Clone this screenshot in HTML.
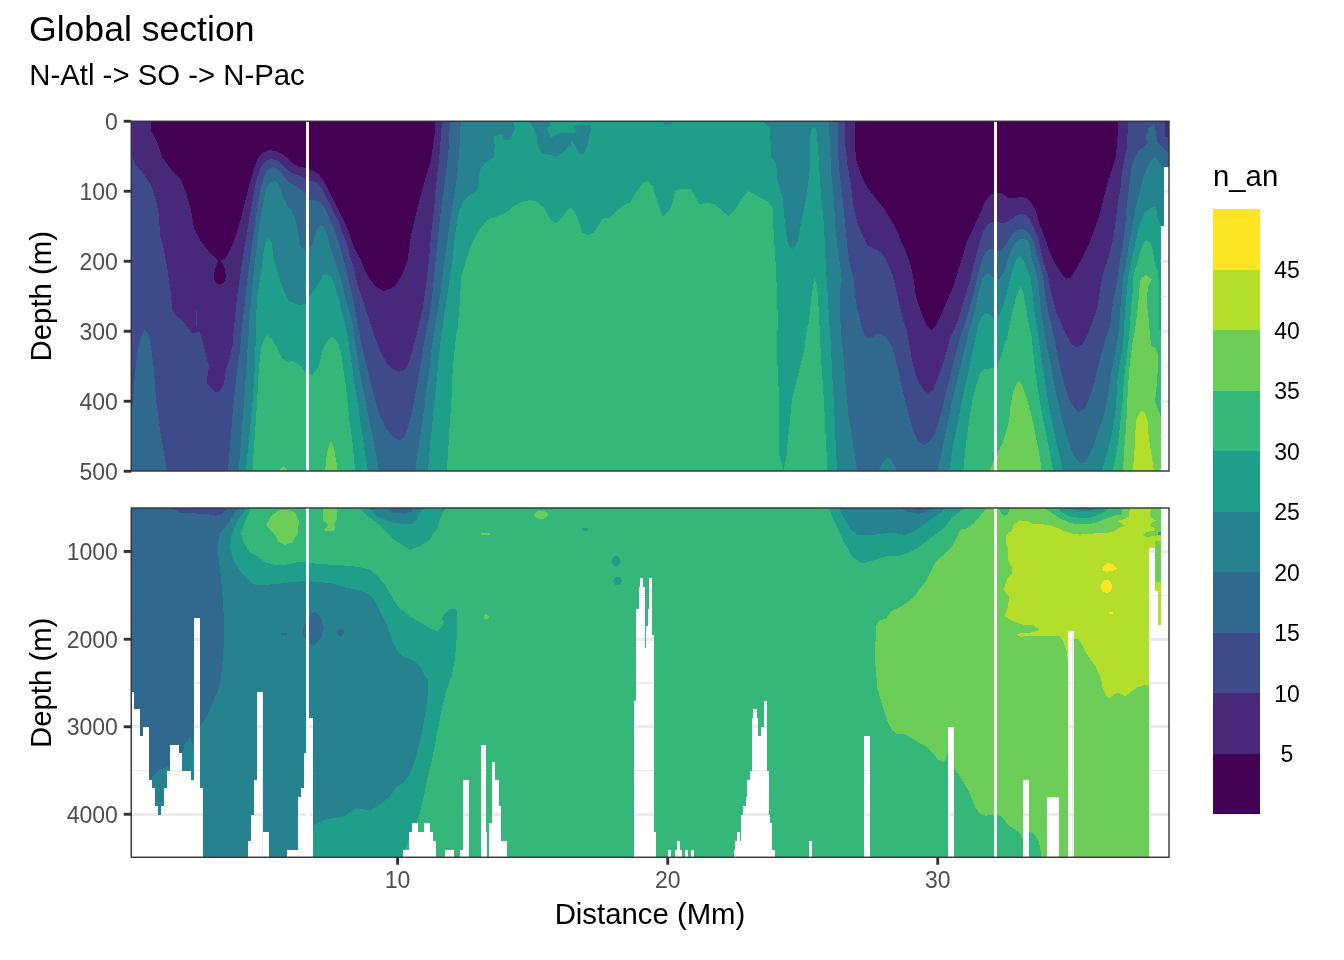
<!DOCTYPE html><html><head><meta charset="utf-8"><title>Global section</title><style>html,body{margin:0;padding:0;background:#fff}body{width:1344px;height:960px;overflow:hidden}</style></head><body><svg width="1344" height="960" viewBox="0 0 1344 960" style="display:block;font-family:'Liberation Sans',sans-serif">
<rect width="1344" height="960" fill="#fff"/>
<defs><clipPath id="ct"><rect x="131.25" y="121.25" width="1037.75" height="349.75"/></clipPath><clipPath id="cb"><rect x="131.25" y="508.0" width="1037.75" height="349.25"/></clipPath></defs>
<g clip-path="url(#ct)" shape-rendering="crispEdges">
<rect x="131.25" y="121.25" width="1037.75" height="349.75" fill="#440154"/>
<polygon fill="#482878" points="131.2,121.2 151.2,121.2 151.2,131.0 157.5,142.5 162.5,157.5 171.0,169.0 181.0,180.0 186.0,192.5 191.0,210.0 194.0,227.5 200.0,240.0 210.0,252.5 219.0,261.0 226.0,258.3 231.0,248.3 236.0,235.0 241.0,218.3 245.2,201.7 249.3,185.0 253.5,170.0 257.7,158.3 262.7,152.5 269.3,150.3 276.0,150.8 282.7,154.2 288.5,159.2 293.5,164.2 299.3,166.7 306.0,168.3 309.3,169.2 314.3,170.8 319.3,175.0 324.3,181.7 329.3,191.7 334.3,201.7 339.3,211.7 344.3,221.7 349.3,233.3 354.3,248.3 359.3,256.7 364.3,268.3 369.3,278.3 376.0,286.7 383.5,290.8 389.3,289.2 394.0,286.7 401.0,277.5 407.5,260.0 411.0,235.0 417.5,207.5 425.0,180.0 431.0,160.0 434.5,135.0 434.5,121.2 855.0,121.2 854.5,140.0 856.2,160.0 861.2,175.0 867.5,187.5 875.0,197.5 885.0,210.0 892.5,222.5 898.8,235.0 905.0,250.0 910.0,262.5 913.8,280.0 916.2,297.5 921.2,312.5 926.2,325.0 931.2,330.0 935.0,326.7 940.0,316.7 946.7,301.7 953.3,286.7 958.3,270.0 963.3,255.0 966.7,241.7 973.3,228.3 980.0,213.3 985.0,201.7 990.0,195.0 994.2,192.5 999.2,192.5 1003.3,194.2 1007.5,197.5 1011.7,198.3 1016.7,197.5 1021.7,197.0 1026.7,198.3 1031.7,203.3 1035.8,210.8 1038.3,220.0 1041.7,230.0 1045.8,240.0 1049.2,251.7 1054.2,261.7 1059.2,270.0 1063.3,275.8 1066.7,278.7 1070.8,277.5 1075.0,270.8 1080.0,261.7 1085.0,251.7 1090.0,241.7 1094.2,230.0 1098.3,218.3 1101.7,206.7 1105.0,193.3 1108.3,180.0 1112.5,168.3 1115.8,156.7 1117.0,143.3 1118.0,131.7 1117.5,121.2 1169.0,121.2 1169.0,473.0 131.2,473.0"/>
<polygon fill="#3E4A89" points="131.2,152.5 135.0,164.0 142.5,172.5 151.0,185.0 156.0,200.0 159.0,215.0 160.0,235.0 164.0,250.0 167.5,270.0 171.0,295.0 172.5,310.0 176.0,316.0 181.0,319.0 186.0,325.0 191.0,332.5 195.0,332.5 199.0,331.0 202.5,341.0 206.0,355.0 209.0,366.0 207.5,376.0 207.0,384.0 211.0,387.5 216.0,392.5 220.0,391.0 224.0,384.0 226.0,370.0 230.0,357.5 232.5,345.0 234.0,327.5 236.0,307.5 236.8,300.0 238.5,286.7 241.0,270.0 243.5,253.3 246.8,233.3 250.2,213.3 253.5,195.0 256.8,178.3 261.0,166.7 266.0,160.8 271.8,158.7 277.7,160.8 282.7,165.0 287.7,170.0 292.7,173.3 299.3,175.8 306.0,179.2 309.3,180.8 314.3,181.7 319.3,185.0 322.7,190.0 326.8,198.3 331.0,206.7 335.2,215.0 339.3,223.3 342.7,233.3 346.8,243.3 350.2,256.7 353.5,266.7 356.0,278.3 359.3,290.0 362.7,300.0 369.3,320.0 373.5,333.0 377.7,345.0 381.8,355.0 386.8,363.0 392.7,369.0 399.3,371.7 404.3,370.0 407.7,365.0 411.0,355.0 414.3,343.0 417.7,330.0 420.0,320.0 422.5,310.0 426.0,285.0 429.0,260.0 431.0,235.0 434.0,210.0 436.0,185.0 439.0,160.0 441.0,135.0 442.0,121.2 845.5,121.2 845.0,142.5 847.5,165.0 851.2,187.5 853.8,210.0 857.5,222.5 862.5,235.0 867.5,245.0 875.0,248.8 882.5,253.8 887.5,262.5 892.5,275.0 896.2,290.0 900.0,307.5 903.8,322.5 906.7,330.0 909.2,343.3 911.7,358.3 915.0,371.7 919.2,383.3 924.2,390.8 928.3,393.0 932.5,390.8 935.8,383.3 938.3,376.7 942.5,365.0 946.7,351.7 950.0,338.3 955.0,328.3 960.0,313.3 965.0,296.7 970.0,280.0 974.2,263.3 978.3,246.7 983.3,231.7 988.3,224.2 994.2,221.7 1000.0,222.5 1005.8,222.5 1010.8,220.0 1015.8,215.8 1020.8,213.8 1025.8,215.0 1030.0,220.0 1034.2,228.3 1038.3,238.3 1040.8,250.0 1043.3,261.7 1047.5,273.3 1050.0,286.7 1053.3,300.0 1056.7,313.3 1060.0,320.0 1063.3,328.3 1067.5,336.7 1071.7,344.2 1076.7,347.5 1082.5,344.2 1088.3,333.3 1093.3,320.0 1097.5,306.7 1100.0,290.0 1102.5,275.0 1104.2,270.0 1106.7,263.3 1110.0,251.7 1113.3,238.3 1115.0,226.7 1116.7,213.3 1118.3,200.0 1120.8,186.7 1121.7,173.3 1124.2,160.0 1126.7,148.3 1127.5,135.0 1128.3,121.2 1165.0,121.2 1165.0,137.0 1169.0,137.0 1169.0,473.0 131.2,473.0"/>
<polygon fill="#31688E" points="131.2,415.0 132.9,401.0 134.4,380.6 136.2,362.0 138.1,348.8 141.0,337.5 145.0,329.0 149.0,336.0 151.0,347.5 154.0,370.0 156.0,400.0 160.0,430.0 164.0,452.5 167.0,471.0 228.0,471.0 230.0,445.0 232.5,415.0 236.0,380.0 240.0,350.0 242.5,322.5 245.2,300.0 246.8,283.3 249.3,265.0 251.8,246.7 254.3,228.3 256.8,210.0 260.2,191.7 263.5,178.3 267.7,170.0 272.7,167.0 277.7,169.2 281.8,173.3 286.0,179.2 290.2,183.3 295.2,185.8 301.0,190.0 306.0,194.2 309.3,200.0 314.3,200.3 319.3,201.7 323.5,205.8 326.8,212.5 330.2,220.0 333.5,228.3 336.8,236.7 340.2,246.7 342.7,256.7 346.0,268.3 348.5,280.0 351.0,290.0 353.5,300.0 356.8,320.0 360.0,336.7 363.5,353.0 367.7,370.0 371.8,386.7 376.0,403.0 381.0,418.0 386.0,428.0 392.7,436.7 399.3,440.3 404.3,437.5 407.7,428.0 411.0,416.7 414.3,400.0 417.7,381.7 421.0,361.7 424.3,341.7 428.5,320.0 432.0,297.5 434.5,272.5 437.0,247.5 439.5,222.5 442.5,197.5 446.2,172.5 448.8,147.5 450.0,121.2 837.5,121.2 837.5,147.5 839.5,172.5 842.5,197.5 845.0,222.5 847.5,247.5 850.0,265.0 853.8,280.0 855.0,295.0 857.5,310.0 861.2,325.0 862.5,330.0 865.0,335.8 868.3,338.3 872.5,337.5 876.7,334.2 880.8,333.7 885.0,336.7 889.2,341.7 892.5,348.3 895.0,358.3 898.3,370.0 900.8,383.3 904.2,396.7 907.5,410.0 910.8,423.3 914.2,433.3 918.3,441.7 924.2,445.0 929.2,441.7 934.2,435.0 938.3,423.3 942.5,406.7 946.7,390.0 950.8,373.3 955.0,356.7 959.2,340.0 965.0,323.3 970.0,306.7 974.2,290.0 978.3,273.3 981.7,260.0 985.8,251.7 990.0,249.2 994.2,249.7 999.2,251.7 1003.3,248.3 1007.5,241.7 1011.7,235.0 1016.7,230.0 1020.8,228.7 1025.8,230.0 1030.0,235.0 1034.2,243.3 1036.7,255.0 1040.0,265.0 1043.3,278.3 1045.0,293.3 1047.5,308.3 1051.7,326.7 1055.8,346.7 1060.0,366.7 1065.0,386.7 1070.8,403.3 1078.3,412.5 1085.0,408.3 1090.0,396.7 1094.2,383.3 1097.5,368.3 1101.7,353.3 1105.8,338.3 1110.0,326.7 1111.7,310.0 1114.2,296.7 1116.7,283.3 1118.3,270.0 1120.0,260.0 1122.5,246.7 1124.2,233.3 1125.8,220.0 1126.7,206.7 1128.3,193.3 1130.0,180.0 1131.7,166.7 1134.2,158.3 1138.3,151.7 1143.3,146.7 1148.3,142.5 1145.0,137.5 1147.5,133.3 1148.3,128.3 1153.3,124.2 1155.0,125.0 1155.8,133.3 1157.5,141.7 1161.7,146.7 1166.7,151.7 1169.0,153.3 1169.0,473.0 131.2,473.0"/>
<polygon fill="#26828E" points="131.2,471.0 238.8,471.0 241.0,440.0 244.0,402.5 246.5,365.0 249.0,327.5 251.0,300.0 252.7,283.3 254.3,266.7 256.8,246.7 259.3,226.7 261.8,210.0 265.2,193.3 267.7,185.8 271.8,181.7 275.2,180.8 278.5,184.2 281.0,190.0 283.5,198.3 286.8,205.0 291.0,209.2 294.3,216.7 296.8,225.0 298.5,235.0 299.3,243.3 302.7,248.3 306.0,250.8 309.3,248.3 312.7,243.3 315.2,235.0 317.7,227.5 321.0,225.0 324.3,228.3 327.7,236.7 330.2,246.7 333.5,256.7 336.8,266.7 340.2,276.7 342.7,286.7 346.0,300.0 351.8,320.0 354.3,336.7 356.8,353.0 359.3,370.0 362.7,386.7 366.0,403.0 369.3,420.0 372.7,436.7 376.0,453.0 379.0,471.0 415.2,471.0 417.7,453.0 420.0,436.7 422.7,420.0 425.0,403.0 426.8,386.7 429.3,370.0 431.0,353.0 433.5,336.7 436.0,320.0 440.0,297.5 443.0,272.5 446.2,247.5 450.0,222.5 453.8,197.5 457.5,172.5 459.5,147.5 460.8,121.2 828.8,121.2 830.0,147.5 831.2,172.5 833.8,197.5 835.0,222.5 837.5,247.5 840.0,265.0 841.8,280.0 839.5,295.0 840.5,322.5 840.8,330.0 842.5,346.7 844.2,363.3 845.0,380.0 846.7,396.7 848.3,413.3 850.8,430.0 853.3,446.7 855.8,461.7 857.0,471.0 878.3,471.0 882.5,462.5 887.5,457.5 890.8,459.2 894.2,465.0 897.0,471.0 937.5,471.0 940.8,456.7 944.2,440.0 947.5,423.3 951.7,403.3 955.8,386.7 960.0,368.3 964.2,351.7 967.5,336.7 971.7,323.3 975.8,306.7 979.2,290.0 982.5,278.3 986.7,273.3 990.8,275.0 994.2,278.3 999.2,279.2 1003.3,273.3 1006.7,263.3 1010.8,251.7 1015.0,243.3 1019.2,239.2 1023.3,238.7 1027.5,240.8 1030.0,246.7 1031.7,258.3 1035.0,268.3 1037.5,280.0 1039.2,293.3 1040.8,308.3 1042.5,320.0 1045.0,336.0 1048.5,354.0 1052.0,372.0 1055.5,390.0 1059.0,406.0 1062.0,420.0 1067.2,438.0 1071.5,450.0 1076.5,459.5 1081.8,463.7 1086.8,460.0 1091.2,451.2 1095.0,441.2 1098.8,430.0 1102.5,420.0 1105.8,406.7 1108.3,393.3 1110.0,380.0 1112.5,366.7 1115.0,353.3 1117.5,340.0 1119.2,326.7 1120.0,313.3 1121.7,293.3 1123.3,276.7 1125.0,270.0 1126.7,256.7 1129.2,243.3 1131.7,230.0 1134.2,216.7 1135.8,206.7 1138.3,196.7 1140.8,186.7 1143.3,176.7 1146.7,168.3 1150.0,161.7 1154.2,156.7 1157.5,160.0 1160.0,165.0 1164.2,167.5 1169.0,167.5 1169.0,473.0 131.2,473.0"/>
<polygon fill="#1F9E89" points="131.2,471.0 245.8,471.0 249.0,440.0 252.5,402.5 255.0,365.0 256.0,327.5 256.8,300.0 259.3,283.3 261.8,266.7 263.5,253.3 265.2,243.3 268.5,238.3 271.8,243.3 273.5,256.7 276.0,266.7 279.3,278.3 283.5,290.0 288.5,300.0 294.0,303.0 299.0,305.0 306.0,304.0 309.3,296.7 314.3,290.0 319.3,281.7 322.7,275.8 326.0,274.2 330.2,275.8 333.5,281.7 336.0,290.0 339.3,300.0 341.0,310.0 344.3,320.0 347.7,336.7 350.0,353.0 352.7,370.0 355.0,386.7 357.7,403.0 360.0,420.0 362.7,436.7 365.0,453.0 368.0,471.0 428.0,471.0 429.3,453.0 431.0,436.7 432.7,420.0 434.3,403.0 436.0,386.7 437.7,370.0 439.3,353.0 441.0,336.7 443.5,320.0 445.0,310.0 448.8,285.0 452.5,260.0 455.0,235.0 457.2,222.5 459.0,211.2 462.8,201.9 469.4,195.3 476.9,190.6 479.1,181.2 479.7,170.0 486.2,162.5 493.8,156.9 494.7,145.6 493.8,137.2 499.4,134.0 504.0,135.3 502.2,138.1 505.0,140.0 510.6,139.0 512.5,134.4 515.3,128.8 513.4,121.2 762.5,121.2 770.0,128.8 771.2,157.5 776.2,163.8 777.5,180.0 782.5,197.5 785.0,222.5 787.3,241.0 789.2,246.5 792.5,248.8 795.8,246.5 797.7,241.0 801.2,222.5 806.2,197.5 809.5,172.5 810.5,135.0 812.0,127.5 816.2,127.5 818.0,147.5 819.5,172.5 821.2,197.5 823.8,222.5 825.0,247.5 826.2,272.5 828.0,297.5 829.0,322.5 830.0,330.0 831.3,355.0 832.5,380.0 834.2,405.0 835.0,430.0 836.3,455.0 837.2,471.0 949.2,471.0 951.7,453.3 955.0,436.7 958.3,420.0 961.7,403.3 965.0,386.7 969.2,368.3 972.5,351.7 975.8,336.7 977.5,326.7 981.7,316.7 985.8,313.0 990.0,315.0 994.2,318.3 999.2,315.0 1002.5,308.3 1005.8,296.7 1009.2,283.3 1012.5,270.0 1015.8,260.0 1020.0,255.8 1023.3,260.0 1027.5,270.0 1030.8,280.0 1032.5,293.3 1034.2,308.3 1035.8,320.0 1038.3,336.7 1040.8,353.3 1043.3,370.0 1045.8,386.7 1048.3,403.3 1051.7,420.0 1055.0,436.7 1059.2,453.3 1063.1,471.0 1101.9,471.0 1105.0,460.0 1108.1,450.0 1110.6,440.0 1113.1,427.5 1115.0,415.0 1116.2,402.5 1117.5,380.0 1119.2,366.7 1121.7,353.3 1123.3,340.0 1124.2,326.7 1125.0,310.0 1126.7,293.3 1128.3,276.7 1129.2,270.0 1131.7,260.0 1134.2,248.3 1136.7,236.7 1139.2,226.7 1141.7,218.3 1145.0,212.5 1150.0,208.3 1155.0,206.3 1156.7,210.0 1157.5,218.3 1160.8,225.8 1169.0,225.8 1169.0,473.0 131.2,473.0"/>
<polygon fill="#35B779" points="131.2,471.0 252.5,471.0 254.5,440.0 257.0,402.5 258.8,370.0 261.2,347.5 265.0,337.5 268.0,335.0 272.5,340.0 277.5,348.8 282.5,358.8 287.5,362.0 292.5,361.2 297.5,363.8 301.0,366.7 305.0,371.7 308.5,374.0 311.8,375.3 316.8,370.0 320.0,361.7 322.7,350.0 326.8,341.7 331.8,336.7 337.7,341.7 341.0,353.0 343.5,370.0 346.0,386.7 347.7,403.0 349.3,420.0 351.8,436.7 353.5,453.0 355.2,471.0 446.8,471.0 448.5,445.0 450.0,420.0 451.8,395.0 452.7,370.0 454.3,353.0 456.0,336.7 457.5,330.0 459.5,305.0 461.2,277.5 466.2,260.0 471.2,245.0 478.8,230.0 487.5,220.0 497.5,216.2 506.2,212.5 513.8,206.2 522.5,201.8 530.0,200.0 537.5,202.0 543.8,207.5 550.0,218.8 556.2,223.8 561.2,218.8 567.5,210.0 571.2,208.0 575.0,212.5 578.8,222.5 582.5,232.5 587.5,235.5 593.8,232.5 598.8,225.0 602.5,218.8 610.0,217.5 616.2,211.2 622.5,206.2 630.0,202.5 637.5,190.0 643.8,182.5 647.5,181.2 652.5,186.2 657.5,202.5 662.5,216.2 666.2,213.8 671.2,207.5 675.0,191.2 680.0,188.8 691.2,189.2 695.0,196.2 698.8,203.8 707.5,203.2 713.8,203.8 720.0,208.8 728.8,216.2 735.0,210.0 742.5,197.5 748.8,191.2 757.5,196.2 767.5,201.2 772.5,207.5 773.8,235.0 776.2,272.5 777.5,310.0 777.5,330.0 777.0,355.0 778.3,380.0 779.2,405.0 778.7,430.0 779.2,455.0 783.5,470.0 786.7,455.0 788.0,438.3 790.0,420.0 791.7,401.7 795.8,383.3 800.0,366.7 804.2,350.0 806.7,330.0 808.8,322.5 811.2,297.5 814.5,278.0 817.0,285.0 818.8,310.0 820.0,335.0 820.8,355.0 822.5,380.0 824.2,405.0 825.3,430.0 826.7,455.0 827.5,471.0 963.3,471.0 965.8,445.0 969.2,420.0 972.5,400.0 976.7,383.3 980.0,373.3 984.2,369.2 990.0,368.3 994.2,367.5 997.5,364.2 1001.7,355.8 1005.0,341.7 1006.7,340.0 1009.2,326.7 1012.5,311.7 1015.8,298.3 1019.2,289.2 1020.8,286.7 1023.3,293.3 1025.8,306.7 1028.3,321.7 1030.0,330.0 1031.7,336.7 1033.3,353.3 1035.0,370.0 1037.5,386.7 1040.0,403.3 1043.3,420.0 1046.7,436.7 1050.0,453.3 1053.1,471.0 1112.5,471.0 1115.0,460.0 1116.9,450.0 1118.8,437.5 1120.0,425.0 1121.2,412.5 1122.5,403.3 1123.3,386.7 1125.0,370.0 1126.7,356.7 1128.3,343.3 1130.0,326.7 1130.8,310.0 1132.5,293.3 1133.3,276.7 1135.0,270.0 1138.3,258.3 1140.8,250.0 1143.3,243.3 1146.7,240.0 1150.8,243.3 1153.3,251.7 1154.2,261.7 1157.5,270.0 1159.2,285.0 1158.7,310.0 1159.2,326.7 1160.8,336.7 1169.0,336.7 1169.0,473.0 131.2,473.0"/>
<polygon fill="#6DCD59" points="278.8,471.0 281.0,468.0 283.5,466.0 286.0,468.0 287.5,471.0"/>
<polygon fill="#6DCD59" points="325.2,471.0 326.0,460.0 328.0,448.0 331.0,441.0 334.0,448.0 336.0,460.0 337.7,471.0"/>
<polygon fill="#6DCD59" points="989.2,471.0 994.2,460.0 997.5,453.3 1002.5,443.3 1005.8,433.3 1009.2,420.0 1010.8,403.3 1013.3,391.7 1016.7,383.3 1019.2,380.8 1022.5,385.8 1026.7,398.3 1030.8,413.3 1034.2,428.3 1037.5,445.0 1040.0,458.3 1041.7,471.0"/>
<polygon fill="#6DCD59" points="1123.1,471.0 1123.8,455.0 1125.0,440.0 1126.2,425.0 1127.0,410.0 1127.5,396.7 1128.3,383.3 1129.2,370.0 1130.8,356.7 1132.5,343.3 1135.0,330.0 1136.7,316.7 1138.3,303.3 1139.2,290.0 1140.8,278.3 1145.8,275.0 1151.7,279.2 1148.3,286.7 1146.7,298.3 1147.5,310.0 1149.2,323.3 1150.0,336.7 1151.7,346.7 1155.0,346.7 1157.5,353.3 1158.0,368.3 1156.7,385.0 1155.0,401.7 1158.3,410.0 1160.8,416.7 1169.0,417.0 1169.0,471.0"/>
<polygon fill="#B4DE2C" points="1133.1,471.0 1133.8,457.5 1134.8,446.2 1135.2,433.8 1136.2,421.2 1138.8,413.8 1141.9,410.2 1145.0,413.8 1147.5,421.2 1148.5,433.8 1150.0,446.2 1151.9,457.5 1154.0,471.0"/>
<polygon fill="#440154" points="219.0,260.0 215.5,268.0 213.5,276.0 215.0,282.0 219.5,285.0 224.0,282.5 226.0,276.0 224.5,268.0 222.0,262.0"/>
<polygon fill="#3E4A89" points="195.5,311.0 196.7,311.0 196.7,327.0 195.5,327.0"/>
<polygon fill="#26828E" points="529.4,121.2 534.0,128.8 536.9,136.2 537.8,145.6 541.6,153.1 550.0,155.0 556.6,157.2 563.1,152.2 570.6,145.6 570.6,138.1 578.1,150.3 580.0,153.5 583.8,153.5 587.5,145.6 589.4,134.4 591.6,128.8 591.2,124.6 581.9,124.6 572.5,126.5 577.2,130.6 574.4,133.4 567.8,132.5 559.4,133.4 550.9,137.8 548.1,131.6 547.2,128.8 550.0,125.0 549.6,121.2"/>
<polygon fill="#26828E" points="662.5,121.2 664.0,124.5 668.0,125.4 671.5,124.5 672.8,121.2"/>
<g fill="#fff"><rect x="1164.2" y="166.7" width="4.80" height="59.10"/><rect x="1160.8" y="225.8" width="8.20" height="245.20"/></g>
<clipPath id="wt"><rect x="1164.2" y="166.7" width="4.80" height="59.10"/><rect x="1160.8" y="225.8" width="8.20" height="245.20"/></clipPath><g clip-path="url(#wt)"><line x1="131.25" x2="1169.0" y1="156.25" y2="156.25" stroke="#ebebeb" stroke-width="1.4"/><line x1="131.25" x2="1169.0" y1="226.25" y2="226.25" stroke="#ebebeb" stroke-width="1.4"/><line x1="131.25" x2="1169.0" y1="296.25" y2="296.25" stroke="#ebebeb" stroke-width="1.4"/><line x1="131.25" x2="1169.0" y1="366.25" y2="366.25" stroke="#ebebeb" stroke-width="1.4"/><line x1="131.25" x2="1169.0" y1="436.25" y2="436.25" stroke="#ebebeb" stroke-width="1.4"/><line x1="262.6" x2="262.6" y1="121.25" y2="471.0" stroke="#ebebeb" stroke-width="1.4"/><line x1="532.7" x2="532.7" y1="121.25" y2="471.0" stroke="#ebebeb" stroke-width="1.4"/><line x1="802.75" x2="802.75" y1="121.25" y2="471.0" stroke="#ebebeb" stroke-width="1.4"/><line x1="1072.75" x2="1072.75" y1="121.25" y2="471.0" stroke="#ebebeb" stroke-width="1.4"/><line x1="131.25" x2="1169.0" y1="121.25" y2="121.25" stroke="#ebebeb" stroke-width="2.8"/><line x1="131.25" x2="1169.0" y1="191.25" y2="191.25" stroke="#ebebeb" stroke-width="2.8"/><line x1="131.25" x2="1169.0" y1="261.25" y2="261.25" stroke="#ebebeb" stroke-width="2.8"/><line x1="131.25" x2="1169.0" y1="331.25" y2="331.25" stroke="#ebebeb" stroke-width="2.8"/><line x1="131.25" x2="1169.0" y1="401.25" y2="401.25" stroke="#ebebeb" stroke-width="2.8"/><line x1="131.25" x2="1169.0" y1="471.25" y2="471.25" stroke="#ebebeb" stroke-width="2.8"/><line x1="397.6" x2="397.6" y1="121.25" y2="471.0" stroke="#ebebeb" stroke-width="2.8"/><line x1="667.75" x2="667.75" y1="121.25" y2="471.0" stroke="#ebebeb" stroke-width="2.8"/><line x1="937.75" x2="937.75" y1="121.25" y2="471.0" stroke="#ebebeb" stroke-width="2.8"/></g>
<g fill="#fff"><rect x="306" y="121" width="3" height="351"/><rect x="994.4" y="121" width="2.8" height="351"/></g>
</g>
<g clip-path="url(#cb)" shape-rendering="crispEdges">
<rect x="131.25" y="508.0" width="1037.75" height="349.25" fill="#35B779"/>
<polygon fill="#6DCD59" points="987.5,508.0 980.0,516.0 973.8,523.5 966.2,528.5 960.0,529.8 957.5,536.0 952.5,546.0 945.0,553.5 936.2,561.0 931.2,571.0 926.2,581.0 918.8,589.8 915.0,596.0 907.5,602.2 900.0,607.2 890.0,612.2 886.2,618.5 878.8,621.0 876.2,626.0 875.5,641.0 875.0,656.0 875.8,671.0 877.5,688.5 881.0,701.2 884.7,712.5 888.4,723.8 892.2,730.3 896.9,734.0 905.3,734.4 911.9,738.4 919.4,743.4 926.9,747.2 932.5,752.8 938.1,759.4 942.8,762.2 945.6,760.3 947.5,753.8 955.0,768.8 959.7,776.2 964.4,783.8 969.1,792.2 972.8,800.6 975.6,808.1 980.3,813.8 985.0,815.6 992.5,815.2 999.1,815.2 1003.8,819.4 1009.4,826.0 1013.1,828.5 1019.7,832.8 1023.0,839.4 1029.5,831.7 1035.0,835.0 1038.9,841.6 1040.5,850.3 1041.6,857.2 1169.0,857.2 1169.0,508.0"/>
<polygon fill="#6DCD59" points="266.2,524.8 271.2,516.0 278.8,510.5 287.5,509.8 295.0,512.2 298.8,521.0 298.0,533.5 292.5,542.2 285.0,544.8 278.8,542.2 273.8,533.5 268.8,528.5"/>
<polygon fill="#6DCD59" points="322.3,508.0 337.1,508.0 337.1,519.6 334.0,524.0 335.0,528.5 333.9,531.2 326.0,531.2 324.1,529.5 328.6,525.0 323.2,520.5 323.2,512.0"/>
<polygon fill="#B4DE2C" points="1130.4,508.0 1129.3,511.2 1128.8,516.7 1124.9,519.0 1117.0,521.2 1121.5,522.9 1124.9,525.7 1119.3,527.9 1112.6,532.4 1097.0,532.9 1090.3,534.0 1079.1,534.6 1072.4,533.5 1063.5,530.7 1052.3,525.7 1041.2,524.0 1033.8,524.2 1028.1,521.3 1019.7,520.4 1013.1,525.0 1012.2,530.7 1006.6,534.4 1005.6,541.0 1008.4,550.4 1007.5,559.8 1012.2,567.2 1012.2,572.9 1007.5,578.5 1003.4,589.8 1009.4,597.2 1007.5,608.5 1004.7,616.0 1010.3,619.8 1018.8,623.5 1026.2,625.4 1033.8,625.4 1039.4,630.0 1030.0,632.9 1020.6,632.9 1016.9,634.8 1020.6,636.6 1031.9,636.2 1046.9,635.7 1060.0,636.6 1063.8,642.2 1066.6,651.6 1067.9,659.1 1074.0,650.0 1074.0,638.5 1078.8,639.4 1082.5,646.0 1086.2,653.5 1090.0,659.1 1095.6,666.6 1100.6,677.5 1102.8,688.4 1107.2,697.2 1110.5,698.3 1114.9,693.9 1119.2,692.8 1124.7,696.1 1131.2,691.7 1137.8,687.3 1144.4,685.2 1149.2,685.8 1161.0,685.8 1161.0,508.0"/>
<polygon fill="#6DCD59" points="1151.6,508.0 1161.0,508.0 1161.0,534.6 1152.8,536.3 1146.1,536.8 1143.3,534.6 1147.2,531.8 1153.9,530.7 1155.0,527.9 1150.0,526.2 1151.1,522.9 1156.1,520.6 1151.6,517.9 1150.0,514.5"/>
<polygon fill="#6DCD59" points="1155.2,541.0 1161.0,541.0 1161.0,582.0 1155.2,582.0"/>
<polygon fill="#35B779" points="1044.5,508.0 1052.3,513.4 1061.2,519.0 1070.2,522.9 1078.0,524.5 1088.0,524.3 1097.0,522.3 1105.9,518.4 1114.8,515.6 1121.5,514.5 1122.6,511.2 1121.5,508.0"/>
<polygon fill="#35B779" points="998.8,508.0 1001.0,513.5 1004.5,515.5 1008.0,514.0 1010.0,508.0"/>
<polygon fill="#1F9E89" points="131.2,508.0 251.2,508.0 245.0,521.0 241.2,533.5 243.8,543.5 250.0,552.2 258.8,557.2 265.0,562.2 275.0,564.8 286.2,564.8 297.5,562.2 306.2,562.2 310.0,563.0 320.0,564.0 332.5,564.8 345.0,565.5 360.0,567.2 370.0,569.8 377.5,576.0 385.0,584.8 391.2,596.0 397.5,606.0 407.5,614.8 420.0,622.2 430.0,628.5 437.5,631.0 442.5,626.0 443.8,621.0 441.2,618.5 445.0,613.5 450.0,608.5 455.0,608.5 457.5,611.0 457.0,633.5 455.0,658.5 451.2,678.5 450.0,680.0 445.1,695.8 441.2,711.7 438.2,727.5 435.2,743.3 431.3,763.1 427.3,779.0 423.3,798.8 419.4,814.6 413.4,828.5 407.5,844.3 403.5,852.2 402.6,857.2 131.2,857.2"/>
<polygon fill="#1F9E89" points="360.0,508.0 367.5,516.0 377.5,523.5 387.5,533.5 397.5,542.2 410.0,549.8 420.0,546.0 431.2,538.5 432.5,533.5 437.5,528.5 438.8,521.0 442.5,513.5 446.2,508.0"/>
<polygon fill="#1F9E89" points="828.8,508.0 833.8,521.0 840.0,533.5 846.2,546.0 852.5,557.2 862.5,563.5 875.0,559.8 887.5,556.0 900.0,555.5 910.0,552.2 920.0,546.0 930.0,538.5 940.0,531.0 947.5,523.5 952.5,517.2 960.0,511.5 965.0,508.0"/>
<polygon fill="#1F9E89" points="1056.8,508.0 1063.5,513.4 1071.3,516.7 1079.1,517.9 1088.0,517.9 1097.0,515.6 1103.7,512.3 1108.1,508.0"/>
<polygon fill="#26828E" points="131.2,508.0 246.2,508.0 237.5,521.0 231.2,536.0 230.0,548.5 233.8,561.0 240.0,571.0 247.5,579.8 255.0,584.8 265.0,584.8 277.5,584.0 290.0,582.2 306.2,581.0 310.0,581.0 320.0,582.2 332.5,583.5 345.0,587.2 357.5,589.8 367.5,593.5 375.0,601.0 381.2,613.5 387.5,626.0 392.5,641.0 397.5,651.0 403.8,657.2 412.5,659.8 420.0,666.0 425.0,676.0 428.3,680.0 427.3,699.8 424.3,719.6 420.4,739.4 415.4,759.2 409.5,775.0 402.6,782.9 395.6,787.9 389.7,796.8 379.8,804.7 369.9,810.6 363.5,809.1 357.5,808.3 351.6,810.6 345.6,815.6 337.7,817.6 329.8,818.6 320.0,822.1 313.0,825.5 313.0,857.2 131.2,857.2"/>
<polygon fill="#26828E" points="369.0,508.0 376.8,516.0 389.3,521.4 400.0,524.1 410.7,524.1 417.0,519.6 417.9,515.2 424.5,508.0"/>
<polygon fill="#26828E" points="838.8,508.0 845.0,519.8 851.2,529.8 857.5,534.8 870.0,535.5 882.5,533.5 895.0,533.0 905.0,534.8 915.0,531.0 925.0,523.5 933.8,517.2 940.0,513.0 945.0,508.0"/>
<polygon fill="#26828E" points="1071.3,508.0 1080.2,511.4 1090.3,511.4 1097.0,508.0"/>
<polygon fill="#31688E" points="131.2,508.0 237.5,508.0 230.0,521.0 220.0,533.5 217.5,546.0 218.8,561.0 221.2,578.5 222.5,596.0 223.8,616.0 224.5,636.0 223.0,656.0 221.2,676.0 219.0,688.0 213.0,701.8 207.1,715.6 203.1,722.6 199.8,725.5 193.8,747.3 190.3,737.0 185.3,743.3 179.4,759.0 169.5,767.0 161.6,768.0 152.3,777.0 149.7,780.0 149.0,857.2 131.2,857.2"/>
<polygon fill="#31688E" points="385.0,508.0 392.9,512.5 405.4,513.9 411.6,511.6 414.5,508.0"/>
<polygon fill="#31688E" points="900.0,508.0 907.5,511.5 917.5,514.0 925.0,512.2 932.5,508.0"/>
<polygon fill="#31688E" points="305.0,623.5 310.0,613.5 316.2,611.8 321.2,618.5 323.8,628.5 321.2,638.5 313.8,646.0 308.8,643.5 303.8,636.0 302.5,631.0"/>
<polygon fill="#3E4A89" points="170.0,508.0 180.0,512.5 195.0,513.5 207.5,514.2 216.2,516.0 222.5,513.5 227.5,508.0"/>
<polygon fill="#3E4A89" points="912.0,508.0 918.0,509.6 926.0,509.4 930.0,508.0"/>
<ellipse fill="#31688E" cx="283.75" cy="634" rx="3" ry="1.5"/>
<ellipse fill="#31688E" cx="340.5" cy="632.25" rx="3.5" ry="3.5"/>
<ellipse fill="#6DCD59" cx="541.25" cy="514.75" rx="7" ry="4"/>
<ellipse fill="#6DCD59" cx="485.5" cy="534" rx="4.5" ry="1.2"/>
<ellipse fill="#6DCD59" cx="486.25" cy="617" rx="2.6" ry="2.6"/>
<ellipse fill="#1F9E89" cx="585" cy="529.25" rx="3" ry="1.5"/>
<ellipse fill="#1F9E89" cx="616.25" cy="561" rx="4" ry="5.5"/>
<ellipse fill="#1F9E89" cx="617.5" cy="581" rx="4.2" ry="4"/>
<ellipse fill="#FDE725" cx="1106.5" cy="586.4" rx="5.6" ry="6.5"/>
<ellipse fill="#FDE725" cx="1111" cy="612.8" rx="2" ry="1"/>
<ellipse fill="#1F9E89" cx="1159.4" cy="533.5" rx="1.5" ry="1.5"/>
<polygon fill="#FDE725" points="1102.2,569.5 1104.0,565.5 1108.0,563.0 1112.0,564.0 1115.5,567.5 1117.5,569.0 1113.0,570.5 1107.0,571.8 1103.5,571.0"/>
<g fill="#fff"><rect x="131.25" y="691.9" width="2.65" height="167.35"/><rect x="133.9" y="709.1" width="5.90" height="150.15"/><rect x="139.8" y="735.8" width="3.40" height="123.45"/><rect x="143.2" y="726.9" width="5.90" height="132.35"/><rect x="149.1" y="779.6" width="3.20" height="79.65"/><rect x="152.3" y="787.9" width="2.90" height="71.35"/><rect x="155.2" y="805.7" width="3.00" height="53.55"/><rect x="158.2" y="815" width="2.80" height="44.25"/><rect x="161" y="805.7" width="2.90" height="53.55"/><rect x="163.9" y="787.9" width="3.00" height="71.35"/><rect x="166.9" y="770.7" width="3.00" height="88.55"/><rect x="169.9" y="744.9" width="9.10" height="114.35"/><rect x="179" y="753.2" width="3.00" height="106.05"/><rect x="182" y="770.7" width="9.30" height="88.55"/><rect x="191.3" y="779.6" width="2.50" height="79.65"/><rect x="193.8" y="618" width="6.00" height="241.25"/><rect x="199.8" y="787.9" width="3.30" height="71.35"/><rect x="247.7" y="840.9" width="2.90" height="18.35"/><rect x="250.6" y="815" width="3.40" height="44.25"/><rect x="254" y="779.6" width="3.00" height="79.65"/><rect x="257" y="691.9" width="5.90" height="167.35"/><rect x="262.9" y="832" width="5.90" height="27.25"/><rect x="286.9" y="849.8" width="10.70" height="9.45"/><rect x="297.6" y="796.8" width="2.90" height="62.45"/><rect x="300.5" y="787.9" width="3.60" height="71.35"/><rect x="304.1" y="753.2" width="1.90" height="106.05"/><rect x="309" y="718" width="4.00" height="141.25"/><rect x="403.2" y="849.8" width="5.90" height="9.45"/><rect x="409.1" y="832" width="3.00" height="27.25"/><rect x="412.1" y="822.9" width="5.90" height="36.35"/><rect x="418" y="832" width="5.90" height="27.25"/><rect x="423.9" y="822.9" width="6.00" height="36.35"/><rect x="429.9" y="832" width="2.90" height="27.25"/><rect x="432.8" y="840.9" width="3.00" height="18.35"/><rect x="445.1" y="849.8" width="8.90" height="9.45"/><rect x="460" y="849.8" width="2.90" height="9.45"/><rect x="462.9" y="780" width="6.00" height="79.25"/><rect x="480.7" y="744.9" width="5.40" height="114.35"/><rect x="486.1" y="832" width="1.20" height="27.25"/><rect x="489" y="822.9" width="3.00" height="36.35"/><rect x="492" y="762.1" width="3.00" height="97.15"/><rect x="495" y="780" width="3.60" height="79.25"/><rect x="498.6" y="806" width="2.30" height="53.25"/><rect x="500.9" y="840.9" width="6.00" height="18.35"/><rect x="633.9" y="701" width="1.90" height="158.25"/><rect x="635.8" y="609" width="3.10" height="250.25"/><rect x="638.9" y="586.9" width="1.10" height="272.35"/><rect x="640" y="578" width="2.80" height="281.25"/><rect x="642.8" y="586.9" width="1.90" height="272.35"/><rect x="644.7" y="647.8" width="1.30" height="211.45"/><rect x="646" y="626" width="2.00" height="233.25"/><rect x="648" y="609" width="1.00" height="250.25"/><rect x="649" y="578" width="2.90" height="281.25"/><rect x="651.9" y="634.8" width="1.85" height="224.45"/><rect x="653.75" y="832" width="2.25" height="27.25"/><rect x="667.75" y="850" width="3.25" height="9.25"/><rect x="674.7" y="850" width="2.40" height="9.25"/><rect x="677.1" y="841" width="2.65" height="18.25"/><rect x="679.75" y="850" width="2.05" height="9.25"/><rect x="685" y="850" width="2.80" height="9.25"/><rect x="691" y="850" width="2.80" height="9.25"/><rect x="733.75" y="850" width="1.50" height="9.25"/><rect x="735.25" y="841" width="1.85" height="18.25"/><rect x="737.1" y="832" width="2.90" height="27.25"/><rect x="740" y="841" width="0.90" height="18.25"/><rect x="740.9" y="814.7" width="1.85" height="44.55"/><rect x="742.75" y="806.25" width="3.25" height="53.00"/><rect x="746" y="796.9" width="1.25" height="62.35"/><rect x="747.25" y="780" width="2.45" height="79.25"/><rect x="749.7" y="770.6" width="2.40" height="88.65"/><rect x="752.1" y="718" width="0.90" height="141.25"/><rect x="753" y="708.75" width="3.80" height="150.50"/><rect x="756.8" y="718" width="1.30" height="141.25"/><rect x="758.1" y="736" width="2.90" height="123.25"/><rect x="761" y="727" width="2.75" height="132.25"/><rect x="763.75" y="701.25" width="3.25" height="158.00"/><rect x="767" y="770.6" width="1.80" height="88.65"/><rect x="768.8" y="814.7" width="1.20" height="44.55"/><rect x="770" y="823" width="2.20" height="36.25"/><rect x="772.2" y="850" width="2.80" height="9.25"/><rect x="809.1" y="841" width="2.90" height="18.25"/><rect x="864" y="736" width="6.00" height="123.25"/><rect x="948" y="727" width="6.00" height="132.25"/><rect x="1023" y="779.9" width="5.90" height="79.35"/><rect x="1047" y="797.2" width="12.00" height="62.05"/><rect x="1068" y="631" width="6.00" height="228.25"/><rect x="1149" y="548" width="6.25" height="311.25"/><rect x="1155.25" y="590.7" width="2.75" height="268.55"/><rect x="1158" y="625.4" width="3.00" height="233.85"/><rect x="1161" y="508.0" width="8.00" height="351.25"/></g>
<clipPath id="wb"><rect x="131.25" y="691.9" width="2.65" height="167.35"/><rect x="133.9" y="709.1" width="5.90" height="150.15"/><rect x="139.8" y="735.8" width="3.40" height="123.45"/><rect x="143.2" y="726.9" width="5.90" height="132.35"/><rect x="149.1" y="779.6" width="3.20" height="79.65"/><rect x="152.3" y="787.9" width="2.90" height="71.35"/><rect x="155.2" y="805.7" width="3.00" height="53.55"/><rect x="158.2" y="815" width="2.80" height="44.25"/><rect x="161" y="805.7" width="2.90" height="53.55"/><rect x="163.9" y="787.9" width="3.00" height="71.35"/><rect x="166.9" y="770.7" width="3.00" height="88.55"/><rect x="169.9" y="744.9" width="9.10" height="114.35"/><rect x="179" y="753.2" width="3.00" height="106.05"/><rect x="182" y="770.7" width="9.30" height="88.55"/><rect x="191.3" y="779.6" width="2.50" height="79.65"/><rect x="193.8" y="618" width="6.00" height="241.25"/><rect x="199.8" y="787.9" width="3.30" height="71.35"/><rect x="247.7" y="840.9" width="2.90" height="18.35"/><rect x="250.6" y="815" width="3.40" height="44.25"/><rect x="254" y="779.6" width="3.00" height="79.65"/><rect x="257" y="691.9" width="5.90" height="167.35"/><rect x="262.9" y="832" width="5.90" height="27.25"/><rect x="286.9" y="849.8" width="10.70" height="9.45"/><rect x="297.6" y="796.8" width="2.90" height="62.45"/><rect x="300.5" y="787.9" width="3.60" height="71.35"/><rect x="304.1" y="753.2" width="1.90" height="106.05"/><rect x="309" y="718" width="4.00" height="141.25"/><rect x="403.2" y="849.8" width="5.90" height="9.45"/><rect x="409.1" y="832" width="3.00" height="27.25"/><rect x="412.1" y="822.9" width="5.90" height="36.35"/><rect x="418" y="832" width="5.90" height="27.25"/><rect x="423.9" y="822.9" width="6.00" height="36.35"/><rect x="429.9" y="832" width="2.90" height="27.25"/><rect x="432.8" y="840.9" width="3.00" height="18.35"/><rect x="445.1" y="849.8" width="8.90" height="9.45"/><rect x="460" y="849.8" width="2.90" height="9.45"/><rect x="462.9" y="780" width="6.00" height="79.25"/><rect x="480.7" y="744.9" width="5.40" height="114.35"/><rect x="486.1" y="832" width="1.20" height="27.25"/><rect x="489" y="822.9" width="3.00" height="36.35"/><rect x="492" y="762.1" width="3.00" height="97.15"/><rect x="495" y="780" width="3.60" height="79.25"/><rect x="498.6" y="806" width="2.30" height="53.25"/><rect x="500.9" y="840.9" width="6.00" height="18.35"/><rect x="633.9" y="701" width="1.90" height="158.25"/><rect x="635.8" y="609" width="3.10" height="250.25"/><rect x="638.9" y="586.9" width="1.10" height="272.35"/><rect x="640" y="578" width="2.80" height="281.25"/><rect x="642.8" y="586.9" width="1.90" height="272.35"/><rect x="644.7" y="647.8" width="1.30" height="211.45"/><rect x="646" y="626" width="2.00" height="233.25"/><rect x="648" y="609" width="1.00" height="250.25"/><rect x="649" y="578" width="2.90" height="281.25"/><rect x="651.9" y="634.8" width="1.85" height="224.45"/><rect x="653.75" y="832" width="2.25" height="27.25"/><rect x="667.75" y="850" width="3.25" height="9.25"/><rect x="674.7" y="850" width="2.40" height="9.25"/><rect x="677.1" y="841" width="2.65" height="18.25"/><rect x="679.75" y="850" width="2.05" height="9.25"/><rect x="685" y="850" width="2.80" height="9.25"/><rect x="691" y="850" width="2.80" height="9.25"/><rect x="733.75" y="850" width="1.50" height="9.25"/><rect x="735.25" y="841" width="1.85" height="18.25"/><rect x="737.1" y="832" width="2.90" height="27.25"/><rect x="740" y="841" width="0.90" height="18.25"/><rect x="740.9" y="814.7" width="1.85" height="44.55"/><rect x="742.75" y="806.25" width="3.25" height="53.00"/><rect x="746" y="796.9" width="1.25" height="62.35"/><rect x="747.25" y="780" width="2.45" height="79.25"/><rect x="749.7" y="770.6" width="2.40" height="88.65"/><rect x="752.1" y="718" width="0.90" height="141.25"/><rect x="753" y="708.75" width="3.80" height="150.50"/><rect x="756.8" y="718" width="1.30" height="141.25"/><rect x="758.1" y="736" width="2.90" height="123.25"/><rect x="761" y="727" width="2.75" height="132.25"/><rect x="763.75" y="701.25" width="3.25" height="158.00"/><rect x="767" y="770.6" width="1.80" height="88.65"/><rect x="768.8" y="814.7" width="1.20" height="44.55"/><rect x="770" y="823" width="2.20" height="36.25"/><rect x="772.2" y="850" width="2.80" height="9.25"/><rect x="809.1" y="841" width="2.90" height="18.25"/><rect x="864" y="736" width="6.00" height="123.25"/><rect x="948" y="727" width="6.00" height="132.25"/><rect x="1023" y="779.9" width="5.90" height="79.35"/><rect x="1047" y="797.2" width="12.00" height="62.05"/><rect x="1068" y="631" width="6.00" height="228.25"/><rect x="1149" y="548" width="6.25" height="311.25"/><rect x="1155.25" y="590.7" width="2.75" height="268.55"/><rect x="1158" y="625.4" width="3.00" height="233.85"/><rect x="1161" y="508.0" width="8.00" height="351.25"/></clipPath><g clip-path="url(#wb)"><line x1="131.25" x2="1169.0" y1="595.4" y2="595.4" stroke="#ebebeb" stroke-width="1.4"/><line x1="131.25" x2="1169.0" y1="683" y2="683" stroke="#ebebeb" stroke-width="1.4"/><line x1="131.25" x2="1169.0" y1="770.5" y2="770.5" stroke="#ebebeb" stroke-width="1.4"/><line x1="262.6" x2="262.6" y1="508.0" y2="857.25" stroke="#ebebeb" stroke-width="1.4"/><line x1="532.7" x2="532.7" y1="508.0" y2="857.25" stroke="#ebebeb" stroke-width="1.4"/><line x1="802.75" x2="802.75" y1="508.0" y2="857.25" stroke="#ebebeb" stroke-width="1.4"/><line x1="1072.75" x2="1072.75" y1="508.0" y2="857.25" stroke="#ebebeb" stroke-width="1.4"/><line x1="131.25" x2="1169.0" y1="551.5" y2="551.5" stroke="#ebebeb" stroke-width="2.8"/><line x1="131.25" x2="1169.0" y1="639.25" y2="639.25" stroke="#ebebeb" stroke-width="2.8"/><line x1="131.25" x2="1169.0" y1="726.75" y2="726.75" stroke="#ebebeb" stroke-width="2.8"/><line x1="131.25" x2="1169.0" y1="814.25" y2="814.25" stroke="#ebebeb" stroke-width="2.8"/><line x1="397.6" x2="397.6" y1="508.0" y2="857.25" stroke="#ebebeb" stroke-width="2.8"/><line x1="667.75" x2="667.75" y1="508.0" y2="857.25" stroke="#ebebeb" stroke-width="2.8"/><line x1="937.75" x2="937.75" y1="508.0" y2="857.25" stroke="#ebebeb" stroke-width="2.8"/></g>
<g fill="#fff"><rect x="306" y="507" width="3" height="351"/><rect x="994.4" y="507" width="2.8" height="351"/></g>
</g>
<rect x="131.25" y="121.25" width="1037.75" height="349.75" fill="none" stroke="#333" stroke-width="1.4"/>
<rect x="131.25" y="508.0" width="1037.75" height="349.25" fill="none" stroke="#333" stroke-width="1.4"/>
<g stroke="#333" stroke-width="2.9"><line x1="123.7" x2="131.25" y1="121.25" y2="121.25"/><line x1="123.7" x2="131.25" y1="191.25" y2="191.25"/><line x1="123.7" x2="131.25" y1="261.25" y2="261.25"/><line x1="123.7" x2="131.25" y1="331.25" y2="331.25"/><line x1="123.7" x2="131.25" y1="401.25" y2="401.25"/><line x1="123.7" x2="131.25" y1="471.25" y2="471.25"/><line x1="123.7" x2="131.25" y1="551.5" y2="551.5"/><line x1="123.7" x2="131.25" y1="639.25" y2="639.25"/><line x1="123.7" x2="131.25" y1="726.75" y2="726.75"/><line x1="123.7" x2="131.25" y1="814.25" y2="814.25"/><line x1="397.6" x2="397.6" y1="857.25" y2="864.75"/><line x1="667.75" x2="667.75" y1="857.25" y2="864.75"/><line x1="937.75" x2="937.75" y1="857.25" y2="864.75"/></g>
<g fill="#4d4d4d" font-size="23px"><text x="117.8" y="129.8" text-anchor="end">0</text><text x="117.8" y="199.8" text-anchor="end">100</text><text x="117.8" y="269.8" text-anchor="end">200</text><text x="117.8" y="339.8" text-anchor="end">300</text><text x="117.8" y="409.8" text-anchor="end">400</text><text x="117.8" y="479.8" text-anchor="end">500</text><text x="117.8" y="560.0" text-anchor="end">1000</text><text x="117.8" y="647.8" text-anchor="end">2000</text><text x="117.8" y="735.2" text-anchor="end">3000</text><text x="117.8" y="822.8" text-anchor="end">4000</text><text x="397.6" y="888.1" text-anchor="middle">10</text><text x="667.75" y="888.1" text-anchor="middle">20</text><text x="937.75" y="888.1" text-anchor="middle">30</text></g>
<g fill="#000" font-size="29.33px">
<text x="650" y="923.8" text-anchor="middle">Distance (Mm)</text>
<text transform="translate(50.9,296.2) rotate(-90)" text-anchor="middle">Depth (m)</text>
<text transform="translate(50.9,682.8) rotate(-90)" text-anchor="middle">Depth (m)</text>
<text x="29.3" y="84.7">N-Atl -&gt; SO -&gt; N-Pac</text>
<text x="1213" y="185.8">n_an</text>
</g>
<text x="29" y="40.5" font-size="35.6px" fill="#000">Global section</text>
<rect x="1213" y="753.53" width="47" height="60.47" fill="#440154" shape-rendering="crispEdges"/>
<rect x="1213" y="693.06" width="47" height="60.47" fill="#482878" shape-rendering="crispEdges"/>
<rect x="1213" y="632.59" width="47" height="60.47" fill="#3E4A89" shape-rendering="crispEdges"/>
<rect x="1213" y="572.12" width="47" height="60.47" fill="#31688E" shape-rendering="crispEdges"/>
<rect x="1213" y="511.65" width="47" height="60.47" fill="#26828E" shape-rendering="crispEdges"/>
<rect x="1213" y="451.18" width="47" height="60.47" fill="#1F9E89" shape-rendering="crispEdges"/>
<rect x="1213" y="390.71" width="47" height="60.47" fill="#35B779" shape-rendering="crispEdges"/>
<rect x="1213" y="330.24" width="47" height="60.47" fill="#6DCD59" shape-rendering="crispEdges"/>
<rect x="1213" y="269.77" width="47" height="60.47" fill="#B4DE2C" shape-rendering="crispEdges"/>
<rect x="1213" y="209.30" width="47" height="60.47" fill="#FDE725" shape-rendering="crispEdges"/>
<g fill="#000" font-size="23px"><text x="1287" y="761.9" text-anchor="middle">5</text><text x="1287" y="701.5" text-anchor="middle">10</text><text x="1287" y="641.0" text-anchor="middle">15</text><text x="1287" y="580.5" text-anchor="middle">20</text><text x="1287" y="520.0" text-anchor="middle">25</text><text x="1287" y="459.6" text-anchor="middle">30</text><text x="1287" y="399.1" text-anchor="middle">35</text><text x="1287" y="338.6" text-anchor="middle">40</text><text x="1287" y="278.2" text-anchor="middle">45</text></g>
</svg></body></html>
